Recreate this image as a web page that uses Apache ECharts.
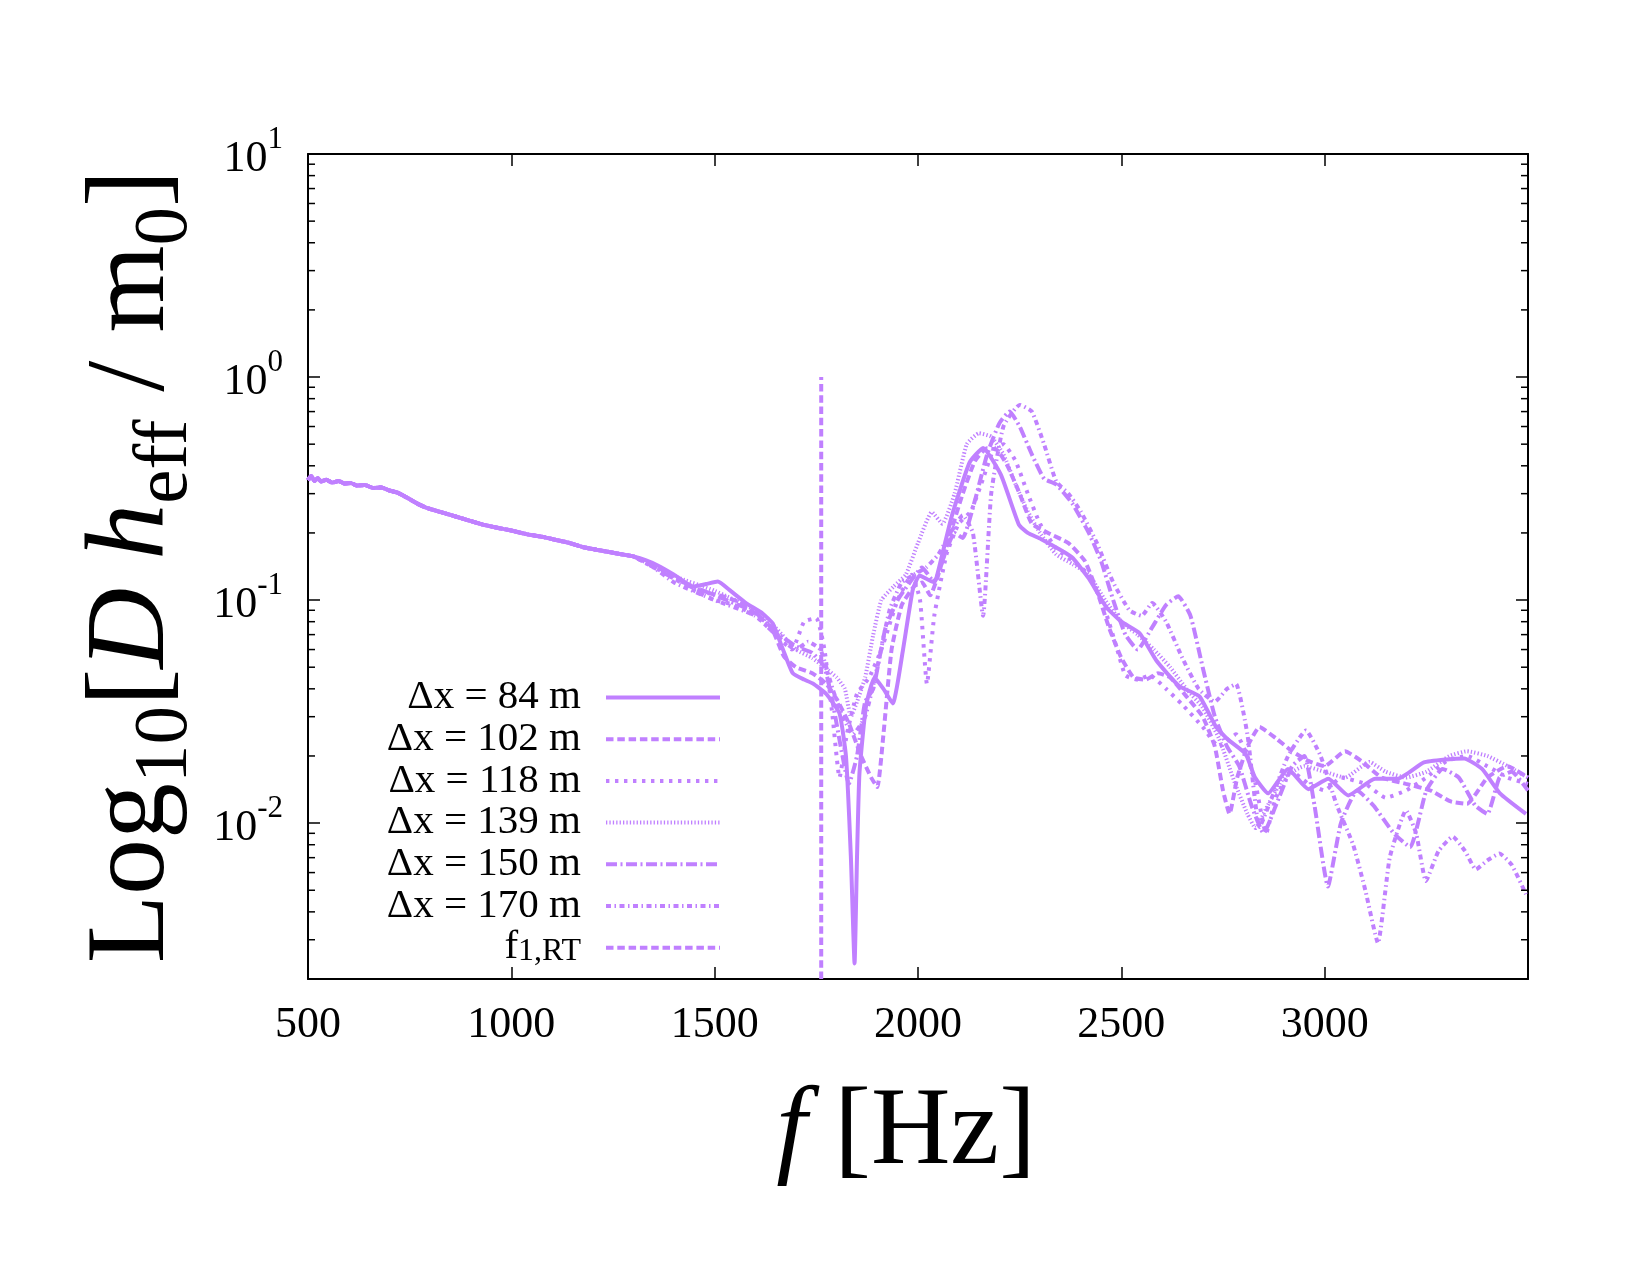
<!DOCTYPE html>
<html>
<head>
<meta charset="utf-8">
<script src="https://cdn.jsdelivr.net/npm/echarts@6/dist/echarts.min.js"></script>
<style>
  html, body { margin: 0; padding: 0; background: #fff; }
  #main { width: 1650px; height: 1275px; }
</style>
</head>
<body>
<div id="main"></div>
<script>
// shared part below ~1300 Hz, all runs lie on top of each other there
const commonLow = [
  [500, 0.345], [508, 0.36], [516, 0.342], [524, 0.352], [532, 0.34], [545, 0.346],
  [560, 0.336], [575, 0.342], [590, 0.333], [605, 0.335], [620, 0.326], [640, 0.328],
  [660, 0.318], [680, 0.32], [700, 0.31], [720, 0.303], [745, 0.287], [770, 0.27],
  [792, 0.259], [820, 0.25], [850, 0.241], [890, 0.229], [930, 0.218], [971, 0.21],
  [1000, 0.205], [1040, 0.197], [1077, 0.192], [1110, 0.186], [1140, 0.181],
  [1175, 0.173], [1210, 0.168], [1250, 0.163], [1283, 0.159], [1300, 0.157]
]

const dx84 = [
  [1330, 0.151], [1360, 0.143], [1400, 0.13], [1446, 0.115], [1479, 0.118], [1508, 0.121],
  [1536, 0.111], [1577, 0.097], [1618, 0.087], [1643, 0.0785], [1668, 0.06], [1692, 0.047],
  [1720, 0.044], [1741, 0.0423], [1774, 0.038], [1807, 0.031], [1823, 0.0198], [1835, 0.007],
  [1844, 0.00235], [1850, 0.007], [1856, 0.0167], [1872, 0.0333], [1893, 0.045], [1915, 0.04],
  [1938, 0.0344], [1963, 0.0597], [1987, 0.111], [2004, 0.129], [2036, 0.121], [2045, 0.125],
  [2083, 0.238], [2127, 0.414], [2160, 0.481], [2204, 0.364], [2248, 0.218], [2270, 0.2],
  [2302, 0.188], [2357, 0.165], [2381, 0.154], [2420, 0.125], [2463, 0.093], [2500, 0.08],
  [2545, 0.071], [2587, 0.0533], [2642, 0.0412], [2692, 0.037], [2733, 0.027], [2762, 0.0237],
  [2806, 0.0204], [2828, 0.0161], [2861, 0.0136], [2910, 0.0175], [2960, 0.0142], [3009, 0.0158],
  [3058, 0.0133], [3124, 0.0158], [3180, 0.0158], [3244, 0.0187], [3300, 0.0193], [3343, 0.0195],
  [3387, 0.0175], [3431, 0.0136], [3495, 0.011]
]

const dx102 = [
  [1350, 0.143], [1400, 0.128], [1440, 0.115], [1480, 0.108], [1520, 0.104], [1560, 0.098],
  [1600, 0.087], [1640, 0.075], [1670, 0.056], [1700, 0.05], [1740, 0.047], [1775, 0.042],
  [1800, 0.036], [1830, 0.028], [1860, 0.02], [1885, 0.016], [1900, 0.0145], [1915, 0.025],
  [1935, 0.06], [1960, 0.095], [1990, 0.115], [2010, 0.12], [2030, 0.105], [2050, 0.13],
  [2080, 0.2], [2110, 0.3], [2140, 0.42], [2170, 0.48], [2195, 0.47], [2220, 0.4], [2250, 0.3],
  [2280, 0.22], [2320, 0.2], [2370, 0.18], [2410, 0.15], [2440, 0.11], [2470, 0.075],
  [2500, 0.055], [2530, 0.045], [2560, 0.044], [2590, 0.047], [2620, 0.045], [2660, 0.037],
  [2700, 0.03], [2730, 0.022], [2750, 0.014], [2766, 0.011], [2785, 0.016], [2810, 0.022],
  [2840, 0.027], [2880, 0.024], [2920, 0.021], [2960, 0.019], [3000, 0.018], [3050, 0.021],
  [3090, 0.019], [3140, 0.016], [3200, 0.015], [3260, 0.014], [3310, 0.0125], [3350, 0.0122],
  [3400, 0.016], [3450, 0.018], [3500, 0.016]
]

const dx118 = [
  [1350, 0.14], [1400, 0.125], [1450, 0.11], [1500, 0.1], [1550, 0.095], [1600, 0.085],
  [1650, 0.07], [1690, 0.06], [1720, 0.08], [1750, 0.083], [1770, 0.06], [1790, 0.03],
  [1807, 0.016], [1825, 0.025], [1850, 0.038], [1880, 0.045], [1910, 0.06], [1950, 0.1],
  [1985, 0.13], [2005, 0.1], [2022, 0.042], [2040, 0.085], [2070, 0.16], [2100, 0.22],
  [2130, 0.25], [2160, 0.35], [2185, 0.47], [2210, 0.5], [2240, 0.42], [2270, 0.3], [2300, 0.22],
  [2340, 0.17], [2380, 0.15], [2420, 0.13], [2460, 0.09], [2490, 0.06], [2510, 0.046],
  [2540, 0.044], [2570, 0.046], [2610, 0.04], [2650, 0.034], [2700, 0.027], [2740, 0.022],
  [2782, 0.025], [2810, 0.02], [2830, 0.015], [2856, 0.009], [2880, 0.013], [2920, 0.017],
  [2960, 0.015], [3000, 0.014], [3040, 0.016], [3100, 0.015], [3150, 0.013], [3200, 0.014],
  [3250, 0.016], [3300, 0.019], [3350, 0.02], [3400, 0.018], [3450, 0.016], [3500, 0.015]
]

const dx139 = [
  [1350, 0.142], [1400, 0.128], [1500, 0.11], [1600, 0.09], [1650, 0.075], [1700, 0.06],
  [1740, 0.055], [1770, 0.05], [1800, 0.045], [1820, 0.04], [1835, 0.03], [1850, 0.035],
  [1870, 0.045], [1890, 0.07], [1910, 0.1], [1940, 0.115], [1970, 0.13], [2000, 0.18],
  [2034, 0.248], [2060, 0.22], [2090, 0.3], [2120, 0.5], [2150, 0.56], [2180, 0.54],
  [2210, 0.45], [2240, 0.33], [2270, 0.25], [2300, 0.2], [2340, 0.16], [2380, 0.145],
  [2420, 0.13], [2460, 0.1], [2500, 0.08], [2540, 0.07], [2580, 0.06], [2620, 0.05],
  [2660, 0.04], [2700, 0.033], [2740, 0.024], [2780, 0.015], [2810, 0.011], [2830, 0.0095],
  [2860, 0.012], [2900, 0.016], [2950, 0.018], [3000, 0.017], [3050, 0.016], [3110, 0.0188],
  [3150, 0.017], [3200, 0.016], [3250, 0.017], [3307, 0.02], [3350, 0.021], [3400, 0.02],
  [3450, 0.018], [3500, 0.016]
]

const dx150 = [
  [1350, 0.141], [1400, 0.125], [1500, 0.105], [1600, 0.088], [1650, 0.072], [1700, 0.062],
  [1740, 0.058], [1770, 0.05], [1790, 0.035], [1810, 0.022], [1830, 0.015], [1850, 0.02],
  [1870, 0.035], [1890, 0.04], [1920, 0.075], [1950, 0.1], [1980, 0.12], [2010, 0.14],
  [2040, 0.12], [2060, 0.15], [2090, 0.2], [2110, 0.19], [2140, 0.28], [2170, 0.45],
  [2200, 0.62], [2225, 0.7], [2250, 0.6], [2280, 0.45], [2310, 0.35], [2340, 0.33],
  [2380, 0.27], [2420, 0.2], [2450, 0.15], [2480, 0.1], [2510, 0.07], [2540, 0.06],
  [2575, 0.075], [2610, 0.095], [2640, 0.104], [2670, 0.085], [2700, 0.05], [2730, 0.03],
  [2760, 0.022], [2790, 0.018], [2820, 0.012], [2850, 0.009], [2880, 0.012], [2920, 0.018],
  [2950, 0.02], [2975, 0.012], [3008, 0.0052], [3040, 0.01], [3080, 0.014], [3120, 0.012],
  [3170, 0.009], [3210, 0.0078], [3250, 0.014], [3290, 0.0175], [3330, 0.016], [3370, 0.012],
  [3400, 0.011], [3430, 0.016], [3460, 0.017], [3500, 0.014]
]

const dx170 = [
  [1350, 0.14], [1400, 0.12], [1500, 0.1], [1600, 0.085], [1650, 0.07], [1700, 0.06],
  [1730, 0.065], [1760, 0.06], [1790, 0.04], [1815, 0.03], [1840, 0.025], [1870, 0.03],
  [1900, 0.05], [1930, 0.09], [1960, 0.12], [1990, 0.13], [2020, 0.14], [2050, 0.16],
  [2080, 0.2], [2110, 0.24], [2135, 0.2], [2160, 0.085], [2180, 0.3], [2210, 0.6],
  [2250, 0.75], [2280, 0.7], [2310, 0.5], [2340, 0.34], [2370, 0.3], [2400, 0.25],
  [2440, 0.18], [2480, 0.12], [2520, 0.09], [2550, 0.085], [2576, 0.097], [2610, 0.08],
  [2650, 0.055], [2690, 0.04], [2730, 0.035], [2760, 0.04], [2782, 0.042], [2810, 0.025],
  [2840, 0.0096], [2870, 0.013], [2910, 0.02], [2954, 0.026], [2990, 0.02], [3030, 0.012],
  [3070, 0.008], [3100, 0.005], [3131, 0.0029], [3160, 0.007], [3200, 0.0114], [3225, 0.009],
  [3249, 0.0055], [3280, 0.0075], [3315, 0.0087], [3345, 0.0075], [3372, 0.0062],
  [3400, 0.0068], [3430, 0.0073], [3460, 0.0065], [3495, 0.0048]
]

// f_1,RT marker
const fRT = 1762
const fRTSpan = [0.002, 1]

const names = ['Δx = 84 m', 'Δx = 102 m', 'Δx = 118 m', 'Δx = 139 m', 'Δx = 150 m', 'Δx = 170 m', 'f1,RT']
const runs = [dx84, dx102, dx118, dx139, dx150, dx170]
const dashes = ['solid', [7.5, 3.8], [3.4, 5.6], [1.3, 2.1], [11, 3.5, 2, 3.5], [5, 3.5, 1.5, 3.5], [7.5, 3.8]]

const xTicks = [500, 1000, 1500, 2000, 2500, 3000]
const minorTickVals = [
  0.003, 0.004, 0.005, 0.006, 0.007, 0.008, 0.009,
  0.02, 0.03, 0.04, 0.05, 0.06, 0.07, 0.08, 0.09,
  0.2, 0.3, 0.4, 0.5, 0.6, 0.7, 0.8, 0.9,
  2, 3, 4, 5, 6, 7, 8, 9
]

const COLOR = '#c080ff'
const FONT = '"Liberation Serif", "Times New Roman", serif'
const LW = 4

const series = runs.map((run, i) => ({
    name: names[i],
    type: 'line',
    data: commonLow.concat(run),
    symbol: 'none',
    smooth: 0.15,
    lineStyle: { color: COLOR, width: LW, type: dashes[i] },
    itemStyle: { color: COLOR },
    z: 3
}))

series.push({
    name: names[6],
    type: 'line',
    data: fRTSpan.map(v => [fRT, v]),
    symbol: 'none',
    lineStyle: { color: COLOR, width: LW, type: dashes[6] },
    itemStyle: { color: COLOR },
    z: 3
})

// minor log ticks on left and right frame
series.push({
    type: 'custom',
    silent: true,
    data: minorTickVals.map(v => [500, v]),
    renderItem: (params, api) => {
        const l = api.coord([500, api.value(1)])
        const r = api.coord([3500, api.value(1)])
        return {
            type: 'group',
            children: [
                { type: 'line', shape: { x1: l[0], y1: l[1], x2: l[0] + 7, y2: l[1] }, style: { stroke: '#000', lineWidth: 1.5 } },
                { type: 'line', shape: { x1: r[0] - 7, y1: r[1], x2: r[0], y2: r[1] }, style: { stroke: '#000', lineWidth: 1.5 } }
            ]
        }
    },
    z: 4
})

const isPow = v => Math.abs(Math.log10(v) - Math.round(Math.log10(v))) < 1e-6

const frameLine = { show: true, onZero: false, lineStyle: { color: '#000', width: 2 } }
const majorTick = { show: true, inside: true, length: 12, lineStyle: { color: '#000', width: 1.5 } }

const option = {
    animation: false,
    backgroundColor: '#fff',
    grid: { left: 308, right: 122, top: 154, bottom: 296 },
    legend: {
        data: names,
        orient: 'vertical',
        right: 928,
        top: 677,
        padding: 0,
        align: 'right',
        itemWidth: 114,
        itemHeight: 14,
        itemGap: 0.7,
        selectedMode: false,
        itemStyle: { color: 'rgba(0,0,0,0)', borderColor: 'rgba(0,0,0,0)', borderWidth: 0 },
        lineStyle: { width: LW },
        formatter: name => name === 'f1,RT' ? '{a|f}{s|1,RT}' : name,
        textStyle: {
            fontFamily: FONT, fontSize: 41, lineHeight: 40, color: '#000',
            padding: [0, 20, 0, 0],
            rich: {
                a: { fontFamily: FONT, fontSize: 41, lineHeight: 40, color: '#000' },
                s: { fontFamily: FONT, fontSize: 32, lineHeight: 12, verticalAlign: 'bottom', color: '#000' }
            }
        }
    },
    xAxis: [
        {
            type: 'value', min: 500, max: 3500, interval: 500,
            axisLine: frameLine, axisTick: majorTick, splitLine: { show: false },
            axisLabel: {
                margin: 24, color: '#000', fontFamily: FONT, fontSize: 44,
                formatter: v => xTicks.includes(v) ? String(v) : ''
            },
            name: '{i|f}{n| [Hz]}',
            nameLocation: 'middle',
            nameGap: 100,
            nameTextStyle: {
                padding: [0, 24, 0, 0],
                rich: {
                    i: { fontFamily: FONT, fontSize: 110, lineHeight: 110, fontStyle: 'italic', color: '#000' },
                    n: { fontFamily: FONT, fontSize: 110, lineHeight: 110, color: '#000' }
                }
            }
        },
        {
            type: 'value', min: 500, max: 3500, interval: 500, position: 'top',
            axisLine: frameLine, axisTick: majorTick, axisLabel: { show: false }, splitLine: { show: false }
        }
    ],
    yAxis: [
        {
            type: 'log', logBase: 10, min: 0.002, max: 10,
            axisLine: frameLine, axisTick: majorTick, splitLine: { show: false },
            axisLabel: {
                margin: 25,
                padding: [11, 0, 0, 0],
                formatter: v => isPow(v) ? '{b|10}{e|' + Math.round(Math.log10(v)) + '}' : '',
                rich: {
                    b: { fontFamily: FONT, fontSize: 44, lineHeight: 70, color: '#000' },
                    e: { fontFamily: FONT, fontSize: 31, lineHeight: 30, verticalAlign: 'top', color: '#000' }
                }
            },
            name: '{n|Log}{s|10}{n|[}{i|D h}{s|eff}{n| / m}{s|0}{n|]}',
            nameLocation: 'middle',
            nameRotate: 90,
            nameGap: 104,
            nameMoveOverlap: false,
            nameTextStyle: {
                rich: {
                    n: { fontFamily: FONT, fontSize: 112, lineHeight: 141, color: '#000' },
                    i: { fontFamily: FONT, fontSize: 112, lineHeight: 141, fontStyle: 'italic', color: '#000' },
                    s: { fontFamily: FONT, fontSize: 77, lineHeight: 44, verticalAlign: 'bottom', color: '#000' }
                }
            }
        },
        {
            type: 'log', logBase: 10, min: 0.002, max: 10, position: 'right',
            axisLine: frameLine, axisTick: majorTick, axisLabel: { show: false }, splitLine: { show: false }
        }
    ],
    series: series
}

const chart = echarts.init(document.getElementById('main'))
chart.setOption(option)
window.addEventListener('resize', () => chart.resize())
</script>
</body>
</html>
